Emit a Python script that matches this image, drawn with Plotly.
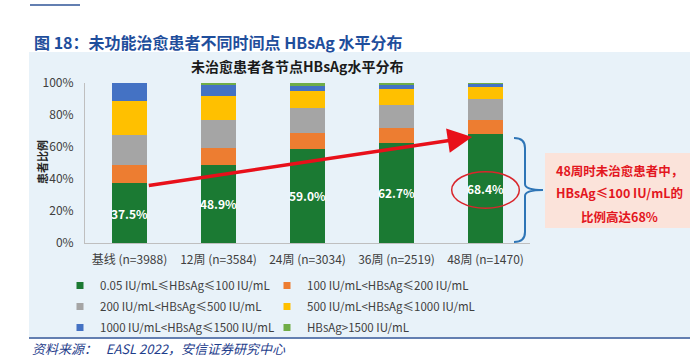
import plotly.graph_objects as go

categories = ["基线 (n=3988)", "12周 (n=3584)", "24周 (n=3034)", "36周 (n=2519)", "48周 (n=1470)"]
series_names = [
    "0.05 IU/mL≤HBsAg≤100 IU/mL",
    "100 IU/mL<HBsAg≤200 IU/mL",
    "200 IU/mL<HBsAg≤500 IU/mL",
    "500 IU/mL<HBsAg≤1000 IU/mL",
    "1000 IU/mL<HBsAg≤1500 IU/mL",
    "HBsAg>1500 IU/mL",
]
s_0_100 = [37.5, 48.9, 59.0, 62.7, 68.4]
s_100_200 = [11.0, 10.7, 9.5, 9.2, 8.5]
s_200_500 = [19.0, 17.3, 15.7, 14.1, 12.9]
s_500_1000 = [21.5, 15.0, 10.8, 10.0, 7.5]
s_1000_1500 = [11.0, 6.6, 3.3, 2.8, 2.1]
s_over_1500 = [0.0, 1.5, 1.7, 1.2, 0.6]
series_values = [s_0_100, s_100_200, s_200_500, s_500_1000, s_1000_1500, s_over_1500]
colors = ["#1b7a33", "#ed7d31", "#a5a5a5", "#ffc000", "#4472c4", "#70ad47"]
y_ticks = [0, 20, 40, 60, 80, 100]
y_tick_labels = ["0%", "20%", "40%", "60%", "80%", "100%"]

FONT = "Noto Sans CJK SC, Noto Sans, sans-serif"
W, H = 690, 363
ML, MR, MT, MB = 85, 160, 83, 120
GW, GH = W - ML - MR, H - MT - MB


def px(x):
    return (x - ML) / GW


def py(y):
    return (H - MB - y) / GH


fig = go.Figure()

for i, (name, vals, col) in enumerate(zip(series_names, series_values, colors)):
    fig.add_trace(go.Bar(
        x=categories, y=vals, name=name, marker=dict(color=col, line=dict(width=0)),
        width=0.4, showlegend=False,
        text=[f"{v:.1f}%" for v in vals] if i == 0 else None,
        textposition="inside" if i == 0 else "none",
        insidetextanchor="middle", textangle=0, constraintext="none",
        textfont=dict(color="white", size=12, family=FONT, weight="bold"),
        hoverinfo="skip",
    ))

# legend entries (small square markers)
for i, (name, col) in enumerate(zip(series_names, colors)):
    fig.add_trace(go.Scatter(
        x=[None], y=[None], mode="markers", name=name,
        marker=dict(symbol="square", size=7, color=col),
        legend="legend" if i % 2 == 0 else "legend2",
        legendgroup=f"g{i}",
    ))

legend_common = dict(
    orientation="v", traceorder="grouped", tracegroupgap=2,
    font=dict(size=11.5, color="#404040", family=FONT),
    bgcolor="rgba(0,0,0,0)", xref="container", yref="container",
    yanchor="top", xanchor="left", itemwidth=30,
)

fig.update_layout(
    width=W, height=H,
    margin=dict(l=ML, r=MR, t=MT, b=MB, autoexpand=False),
    paper_bgcolor="white", plot_bgcolor="rgba(0,0,0,0)",
    barmode="stack",
    font=dict(family=FONT, color="#404040"),
    legend=dict(x=60 / W, y=1 - 271 / H, **legend_common),
    legend2=dict(x=267 / W, y=1 - 271 / H, **legend_common),
    xaxis=dict(
        range=[-0.5, 4.5], showgrid=False, zeroline=False,
        showline=True, linecolor="#bfbfbf", linewidth=1,
        tickfont=dict(size=12, color="#404040", family=FONT),
        ticks="", ticklabelstandoff=6, fixedrange=True,
    ),
    yaxis=dict(
        range=[0, 100], tickvals=y_ticks, ticktext=y_tick_labels,
        showgrid=False, zeroline=False, showline=True,
        linecolor="#bfbfbf", linewidth=1,
        tickfont=dict(size=12, color="#404040", family=FONT),
        ticks="", ticklabelstandoff=8, fixedrange=True,
    ),
    showlegend=True,
)

shapes = []
# panel background
shapes.append(dict(type="rect", xref="paper", yref="paper",
                   x0=px(29), x1=px(692), y0=py(337), y1=py(52),
                   fillcolor="#e8f2f9", line=dict(width=0), layer="below"))
# bottom separator
shapes.append(dict(type="line", xref="paper", yref="paper",
                   x0=px(29), x1=px(692), y0=py(338), y1=py(338),
                   line=dict(color="#2f5597", width=1.5)))
# header underline fragment
shapes.append(dict(type="line", xref="paper", yref="paper",
                   x0=px(30), x1=px(80), y0=py(5), y1=py(5),
                   line=dict(color="#2f5597", width=1.5)))
# red ellipse around 68.4%
shapes.append(dict(type="circle", xref="x", yref="y",
                   x0=3.62, x1=4.38, y0=21.7, y1=44.6,
                   line=dict(color="#d9262c", width=1.5)))
# blue curly bracket
bx, btop, bbot, bmid, btip = 525, 138, 242, 190, 543
path = (f"M {px(514)},{py(btop)} "
        f"Q {px(bx)},{py(btop)} {px(bx)},{py(btop + 10)} "
        f"L {px(bx)},{py(bmid - 6)} "
        f"Q {px(bx)},{py(bmid)} {px(btip)},{py(bmid)} "
        f"Q {px(bx)},{py(bmid)} {px(bx)},{py(bmid + 6)} "
        f"L {px(bx)},{py(bbot - 10)} "
        f"Q {px(bx)},{py(bbot)} {px(514)},{py(bbot)}")
shapes.append(dict(type="path", xref="paper", yref="paper", path=path,
                   line=dict(color="#2e75b6", width=2)))
# pink callout box
shapes.append(dict(type="rect", xref="paper", yref="paper",
                   x0=px(545), x1=px(700), y0=py(228), y1=py(153),
                   fillcolor="#fbe3da", line=dict(width=0)))
fig.update_layout(shapes=shapes)

ann = []
ann.append(dict(xref="paper", yref="paper", x=px(32), y=py(42), xanchor="left", yanchor="middle",
                text="<b>图 18：未功能治愈患者不同时间点 HBsAg 水平分布</b>", showarrow=False,
                font=dict(size=16, color="#1f4e9c", family=FONT)))
ann.append(dict(xref="paper", yref="paper", x=px(297), y=py(66), xanchor="center", yanchor="middle",
                text="<b>未治愈患者各节点HBsAg水平分布</b>", showarrow=False,
                font=dict(size=14, color="#1a1a1a", family=FONT)))
ann.append(dict(xref="paper", yref="paper", x=px(42), y=py(162), xanchor="center", yanchor="middle",
                text="<b>患者比例</b>", textangle=-90, showarrow=False,
                font=dict(size=11, color="#262626", family=FONT)))
# red arrow
ann.append(dict(xref="x", yref="y", axref="x", ayref="y",
                x=3.85, y=66.2, ax=0.2, ay=35.8, text="", showarrow=True,
                arrowhead=2, arrowsize=1.4, arrowwidth=3.5, arrowcolor="#e8101a"))
# callout text
for t, yy in [("48周时未治愈患者中，", 170), ("HBsAg≤100 IU/mL的", 192), ("比例高达68%", 216)]:
    ann.append(dict(xref="paper", yref="paper", x=px(619), y=py(yy), xanchor="center", yanchor="middle",
                    text=f"<b>{t}</b>", showarrow=False,
                    font=dict(size=12.5, color="#e3161e", family=FONT)))
# source
ann.append(dict(xref="paper", yref="paper", x=px(30), y=py(348), xanchor="left", yanchor="middle",
                text="<i>资料来源：   EASL 2022，安信证券研究中心</i>", showarrow=False,
                font=dict(size=13, color="#1f3e8c", family=FONT)))
fig.update_layout(annotations=ann)

fig.write_html("out.html", config={"displayModeBar": False},
               post_script="document.body.style.margin='0';")
